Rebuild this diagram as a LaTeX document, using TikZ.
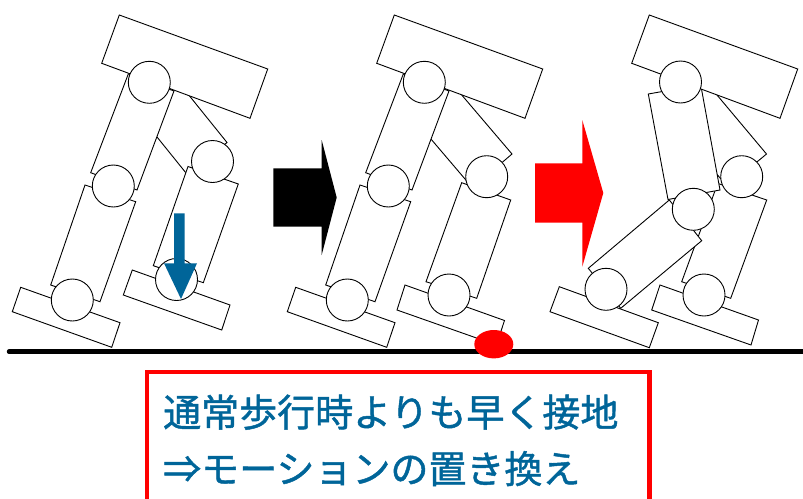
\documentclass[tikz,border=0pt]{standalone}
\usepackage{fontspec}
\newfontfamily\jpfont[FakeBold=1.2]{Noto Sans CJK JP}
\definecolor{stepblue}{RGB}{0,101,153}
\definecolor{alertred}{RGB}{255,0,0}
\begin{document}
\begin{tikzpicture}[x=1pt,y=-1pt,
  part/.style={draw=black,fill=white,line width=0.9pt,line join=miter},
  joint/.style={draw=black,fill=white,line width=0.9pt},
  caption/.style={font=\jpfont\fontsize{38}{45}\selectfont,text=stepblue,anchor=base west,inner sep=0pt}]
\useasboundingbox (0,0) rectangle (803,498);
\clip (0,0) rectangle (803,498);

% ---------- first pose ----------
% front leg
\draw[part] (173.3,75.8) -- (227,142.5) -- (187.7,175.1) -- (134,108.4) -- cycle;
\draw[part] (188,166.5) -- (238.3,184) -- (203.3,282.7) -- (153.3,265.7) -- cycle;
\draw[part] (132.3,270) -- (230,305) -- (221.7,330) -- (123.3,295) -- cycle;
% rear leg and torso (shared by the second pose)
\def\rearbody{%
  \draw[part] (128.3,74) -- (174,91) -- (137,190) -- (90.7,172.7) -- cycle;
  \draw[part] (85,185) -- (135.7,201.7) -- (100,301.7) -- (50.7,285) -- cycle;
  \draw[part] (20.7,287.3) -- (120,322.7) -- (111.7,347.3) -- (12.3,311.7) -- cycle;
  \draw[part] (119.3,15) -- (267.7,69) -- (250,118.3) -- (101.7,63.3) -- cycle;
}
\rearbody
\coordinate (aHip) at (149.3,82.3);
\coordinate (aKneeR) at (113.3,186);
\coordinate (aAnkleR) at (72.3,300);
\coordinate (aKneeF) at (212.5,161.5);
\coordinate (aAnkleF) at (176.5,279.5);
\foreach \j in {aHip,aKneeR,aAnkleR,aKneeF,aAnkleF}
  \draw[joint] (\j) circle[radius=21];

% downward push on the swing foot
\fill[stepblue] (174,213.3) -- (184.5,213.3) -- (184.5,263.3) -- (197,263.3)
  -- (181,299) -- (164,263.3) -- (174,263.3) -- cycle;

% ---------- second pose ----------
\draw[part] (447,77.7) -- (512,154) -- (472.5,187.8) -- (407.5,111.5) -- cycle;
\draw[part] (461.7,182.7) -- (510.7,200) -- (476.7,298.3) -- (426,281.7) -- cycle;
\draw[part] (405,285) -- (504.5,320.5) -- (496.4,345) -- (397,310) -- cycle;
\begin{scope}[xshift=275]
  \rearbody
  \coordinate (bHip) at (149.3,82.3);
  \coordinate (bKneeR) at (113.3,186);
  \coordinate (bAnkleR) at (72.3,300);
\end{scope}
\coordinate (bKneeF) at (486.7,176.7);
\coordinate (bAnkleF) at (449,295);
\foreach \j in {bHip,bKneeR,bAnkleR,bKneeF,bAnkleF}
  \draw[joint] (\j) circle[radius=21];

% ---------- third pose ----------
\draw[part] (702.3,77.5) -- (766.5,154) -- (727.3,186.6) -- (663.1,110.1) -- cycle;
\draw[part] (717.7,183.4) -- (766.7,200) -- (730.7,298.3) -- (681.7,281.7) -- cycle;
\draw[part] (660,285) -- (758.5,320) -- (751,345) -- (651.7,310) -- cycle;
\draw[part] (648.3,94) -- (700.7,84.7) -- (720,190) -- (668,199.5) -- cycle;
\draw[part] (669.3,200) -- (701.7,240.7) -- (620.7,308.3) -- (588.3,268.3) -- cycle;
\draw[part] (559.3,286.7) -- (658.3,322.7) -- (649.3,347.7) -- (550,311.7) -- cycle;
\draw[part] (649.3,15) -- (797.7,69) -- (780,118.3) -- (631.7,63.3) -- cycle;
\coordinate (cHip) at (680.5,82);
\coordinate (cKneeL) at (693.3,209.3);
\coordinate (cAnkleL) at (606,289.3);
\coordinate (cKneeR) at (741.7,176.7);
\coordinate (cAnkleR) at (704,295);
\foreach \j in {cHip,cKneeL,cAnkleL,cKneeR,cAnkleR}
  \draw[joint] (\j) circle[radius=21];

% ---------- transition arrows ----------
\fill[black] (273.3,168.3) -- (321.7,168.3) -- (321.7,140) -- (336.7,197.5)
  -- (321.7,255) -- (321.7,226.7) -- (273.3,226.7) -- cycle;
\fill[alertred] (535,163.3) -- (582.3,163.3) -- (582.3,120) -- (603.3,193)
  -- (582.3,266.7) -- (582.3,222.7) -- (535,222.7) -- cycle;

% ---------- ground and early contact ----------
\coordinate (groundL) at (9,351.7);
\coordinate (groundR) at (810,351.7);
\draw[line width=4.5pt,line cap=round] (groundL) -- (groundR);
\fill[alertred] (493.8,344.2) ellipse[x radius=19.5,y radius=14.2];

% ---------- caption ----------
\draw[alertred,line width=4.5pt] (147.2,372.2) rectangle (649.5,520);
\node[caption] (line1) at (163,426.5) {通常歩行時よりも早く接地};
\node[caption] (line2) at (163,483) {⇒モーションの置き換え};
\end{tikzpicture}
\end{document}
